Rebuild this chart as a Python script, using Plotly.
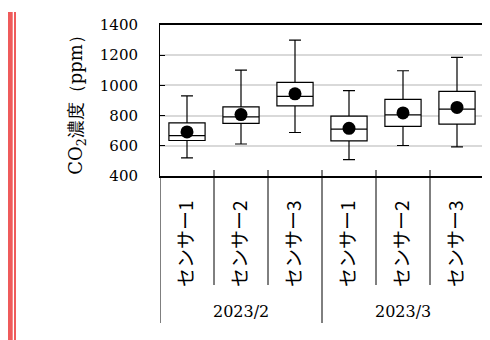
import plotly.graph_objects as go

months = ["2023/2", "2023/3"]
sensors = ["センサー1", "センサー2", "センサー3", "センサー1", "センサー2", "センサー3"]
pos = [0, 1, 2, 3, 4, 5]

lower = [520, 612, 688, 509, 602, 593]
q1 = [635, 748, 865, 632, 728, 743]
median = [668, 792, 927, 710, 805, 843]
q3 = [752, 858, 1020, 796, 907, 960]
upper = [931, 1101, 1300, 966, 1097, 1186]
mean = [692, 807, 944, 716, 818, 854]

serif = "DejaVu Serif"
jp = "Noto Sans CJK JP"

# plot area size in pixels (used for the decorations under the axis)
PH = 151.0
PW = 324.0

fig = go.Figure()

fig.add_trace(
    go.Box(
        x=pos,
        lowerfence=lower,
        q1=q1,
        median=median,
        q3=q3,
        upperfence=upper,
        fillcolor="white",
        line=dict(color="black", width=1.2),
        whiskerwidth=0.33,
        width=0.67,
        boxpoints=False,
        showlegend=False,
        hoverinfo="skip",
    )
)

fig.add_trace(
    go.Scatter(
        x=pos,
        y=mean,
        mode="markers",
        marker=dict(color="black", size=13),
        showlegend=False,
    )
)

fig.update_layout(
    width=482,
    height=332,
    margin=dict(l=152, r=6, t=17, b=164),
    plot_bgcolor="white",
    paper_bgcolor="white",
    font=dict(family=serif, color="black", size=16),
)

fig.update_yaxes(
    range=[400, 1400],
    dtick=200,
    showgrid=True,
    gridcolor="#d9d9d9",
    gridwidth=1.5,
    ticks="inside",
    ticklen=5,
    tickcolor="black",
    showline=True,
    linecolor="black",
    linewidth=1,
    mirror=True,
    zeroline=False,
    ticklabelstandoff=18,
    tickfont=dict(family=serif, size=15),
    title=dict(text="CO<sub>2</sub>濃度（ppm）", font=dict(family=serif, size=18), standoff=12),
)

fig.update_xaxes(
    range=[-0.5, 5.5],
    tickvals=pos,
    ticktext=sensors,
    tickangle=-90,
    ticks="",
    ticklabelstandoff=15,
    showline=True,
    linecolor="black",
    linewidth=1.5,
    mirror=True,
    showgrid=False,
    zeroline=False,
    tickfont=dict(family=jp, size=19),
)

# inner category boundaries
for b in [0.5, 1.5, 3.5, 4.5]:
    fig.add_shape(type="line", xref="x", yref="paper", x0=b, x1=b,
                  y0=6 / PH, y1=-109 / PH, line=dict(color="black", width=1))
# group boundaries
for b in [-0.5, 2.5, 5.5]:
    fig.add_shape(type="line", xref="x", yref="paper", x0=b, x1=b,
                  y0=6 / PH if b == 2.5 else 0, y1=-147 / PH,
                  line=dict(color="black", width=1))

for i, m in enumerate(months):
    fig.add_annotation(x=1 + 3 * i, xref="x", y=-135 / PH, yref="paper",
                       text=m, showarrow=False, yanchor="middle",
                       font=dict(family=serif, size=16))

# red bar at the left edge
fig.add_shape(type="rect", xref="paper", yref="paper",
              x0=-152 / PW, x1=-147.3 / PW, y0=-164 / PH, y1=1 + 13 / PH,
              fillcolor="#ef5b5b", line_width=0)
fig.add_shape(type="rect", xref="paper", yref="paper",
              x0=-146 / PW, x1=-144 / PW, y0=-164 / PH, y1=1 + 13 / PH,
              fillcolor="#ef5b5b", line_width=0)

fig.write_html("out.html")
